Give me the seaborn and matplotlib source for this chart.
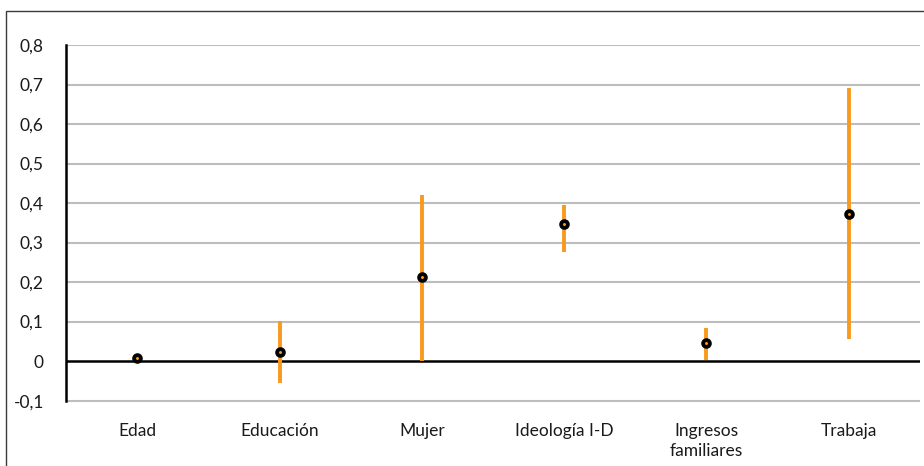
import matplotlib
matplotlib.use("Agg")
import matplotlib.pyplot as plt
from matplotlib.patches import Rectangle
import seaborn as sns
import pandas as pd

# Coefficients with confidence intervals per variable
variables = ["Edad", "Educación", "Mujer", "Ideología I-D", "Ingresos\nfamiliares", "Trabaja"]
coef = [0.008, 0.023, 0.212, 0.346, 0.045, 0.373]
ci_low = [0.006, -0.056, 0.001, 0.277, 0.002, 0.056]
ci_high = [0.010, 0.101, 0.420, 0.396, 0.083, 0.691]

y_ticks = [-0.1, 0.0, 0.1, 0.2, 0.3, 0.4, 0.5, 0.6, 0.7, 0.8]
y_tick_labels = ["-0,1", "0", "0,1", "0,2", "0,3", "0,4", "0,5", "0,6", "0,7", "0,8"]

df = pd.DataFrame({"variable": variables, "coef": coef, "low": ci_low, "high": ci_high})

sns.set_style("white")
plt.rcParams["font.family"] = ["Lato", "DejaVu Sans"]

ORANGE = "#F79A1E"
GRID = "#BDBDBD"

fig = plt.figure(figsize=(9.24, 4.66), dpi=100)
# keep a small margin under the lowest gridline so it is not clipped
ax = fig.add_axes([66 / 924, 1 - 405 / 466, (920 - 66) / 924, (405 - 45) / 466])

xpos = list(range(len(variables)))
ax.set_xlim(-0.5, len(variables) - 0.5)
ax.set_ylim(-0.111, 0.8)

# horizontal gridlines
grid_y = [t for t in y_ticks if t != 0]
ax.hlines(grid_y, -0.5, len(variables) - 0.5, colors=GRID, lw=1.5, zorder=0.5)
ax.axhline(0, color="black", lw=1.8, zorder=1)

# confidence intervals
ax.vlines(xpos, df["low"], df["high"], color=ORANGE, lw=2.8, zorder=2)

# point estimates
sns.scatterplot(data=df, x="variable", y="coef", ax=ax, marker="o", s=24,
                color=ORANGE, edgecolor="black", linewidth=2.7, zorder=3, legend=False)

ax.set_xlim(-0.5, len(variables) - 0.5)
ax.set_ylim(-0.111, 0.8)

ax.set_yticks(y_ticks)
ax.set_yticklabels(y_tick_labels)
ax.set_xticks(xpos)
ax.set_xticklabels(variables, linespacing=1.3)
ax.tick_params(axis="y", length=0, pad=16, labelsize=12.5, colors="#1a1a1a")
ax.tick_params(axis="x", length=0, pad=13, labelsize=12.5, colors="#1a1a1a")
ax.set_xlabel("")
ax.set_ylabel("")

for side in ["top", "right", "bottom"]:
    ax.spines[side].set_visible(False)
ax.spines["left"].set_color("black")
ax.spines["left"].set_linewidth(1.8)
ax.spines["left"].set_zorder(4)
ax.spines["left"].set_bounds(-0.1, 0.8)

# chart-area frame
fig.patches.append(Rectangle((6 / 924, -0.1), 1.2, 1 - 11 / 466 + 0.1, transform=fig.transFigure,
                             fill=False, edgecolor="#3a3a3a", lw=1.0))

fig.savefig("out.png", dpi=100)
